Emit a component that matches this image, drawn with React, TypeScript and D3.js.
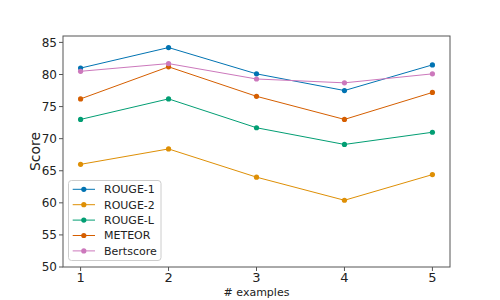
import React from 'react';
import * as d3 from 'd3';

const examples = [1, 2, 3, 4, 5];
const rouge1 = [81.0, 84.2, 80.1, 77.5, 81.5];
const rouge2 = [66.0, 68.4, 64.0, 60.4, 64.4];
const rougeL = [73.0, 76.2, 71.7, 69.1, 71.0];
const meteor = [76.2, 81.2, 76.6, 73.0, 77.2];
const bertscore = [80.5, 81.7, 79.3, 78.7, 80.1];
const yTicks = [50, 55, 60, 65, 70, 75, 80, 85];

const series = [
  { name: 'ROUGE-1', values: rouge1, color: '#0173b2' },
  { name: 'ROUGE-2', values: rouge2, color: '#de8f05' },
  { name: 'ROUGE-L', values: rougeL, color: '#029e73' },
  { name: 'METEOR', values: meteor, color: '#d55e00' },
  { name: 'Bertscore', values: bertscore, color: '#cc78bc' },
];

const W = 500;
const H = 300;
const margin = { top: 36, right: 50, bottom: 33, left: 63 };
const font = 'DejaVu Sans, sans-serif';

export default function App() {
  const x = d3.scaleLinear().domain([0.8, 5.2]).range([margin.left, W - margin.right]);
  const y = d3.scaleLinear().domain([50, 86]).range([H - margin.bottom, margin.top]);

  const line = d3.line<number>()
    .x((_, i) => x(examples[i]))
    .y(d => y(d));

  const x0 = margin.left;
  const x1 = W - margin.right;
  const y0 = H - margin.bottom;
  const y1 = margin.top;

  return (
    <svg width={W} height={H} style={{ position: 'absolute', left: 0, top: 0 }}>
      <rect width={W} height={H} fill="#fff" />
      {series.map(s => (
        <g key={s.name}>
          <path d={line(s.values) || ''} fill="none" stroke={s.color} strokeWidth={1} />
          {s.values.map((v, i) => (
            <circle key={i} cx={x(examples[i])} cy={y(v)} r={2.6} fill={s.color} />
          ))}
        </g>
      ))}
      <rect x={x0} y={y1} width={x1 - x0} height={y0 - y1} fill="none" stroke="#555" strokeWidth={1} />
      {yTicks.map(t => (
        <g key={t}>
          <line x1={x0 - 4} x2={x0} y1={y(t)} y2={y(t)} stroke="#555" />
          <text x={x0 - 6} y={y(t)} dy="0.35em" textAnchor="end" fontSize={12} fontFamily={font} fill="#222">{t}</text>
        </g>
      ))}
      {examples.map(t => (
        <g key={t}>
          <line x1={x(t)} x2={x(t)} y1={y0} y2={y0 + 4} stroke="#555" />
          <text x={x(t)} y={y0 + 15} textAnchor="middle" fontSize={13} fontFamily={font} fill="#222">{t}</text>
        </g>
      ))}
      <text x={(x0 + x1) / 2} y={296} textAnchor="middle" fontSize={11} fontFamily={font} fill="#222"># examples</text>
      <text transform={`translate(39.5,${(y0 + y1) / 2}) rotate(-90)`} textAnchor="middle" fontSize={14} fontFamily={font} fill="#222">Score</text>
      <g>
        <rect x={68.5} y={180.5} width={92.5} height={80} rx={3} fill="#fff" fillOpacity={0.8} stroke="#ccc" />
        {series.map((s, i) => {
          const ly = 189.3 + i * 15.4;
          return (
            <g key={s.name}>
              <line x1={72.7} x2={95} y1={ly} y2={ly} stroke={s.color} strokeWidth={1} />
              <circle cx={83.8} cy={ly} r={2.6} fill={s.color} />
              <text x={104} y={ly} dy="0.35em" fontSize={11} fontFamily={font} fill="#222">{s.name}</text>
            </g>
          );
        })}
      </g>
    </svg>
  );
}
